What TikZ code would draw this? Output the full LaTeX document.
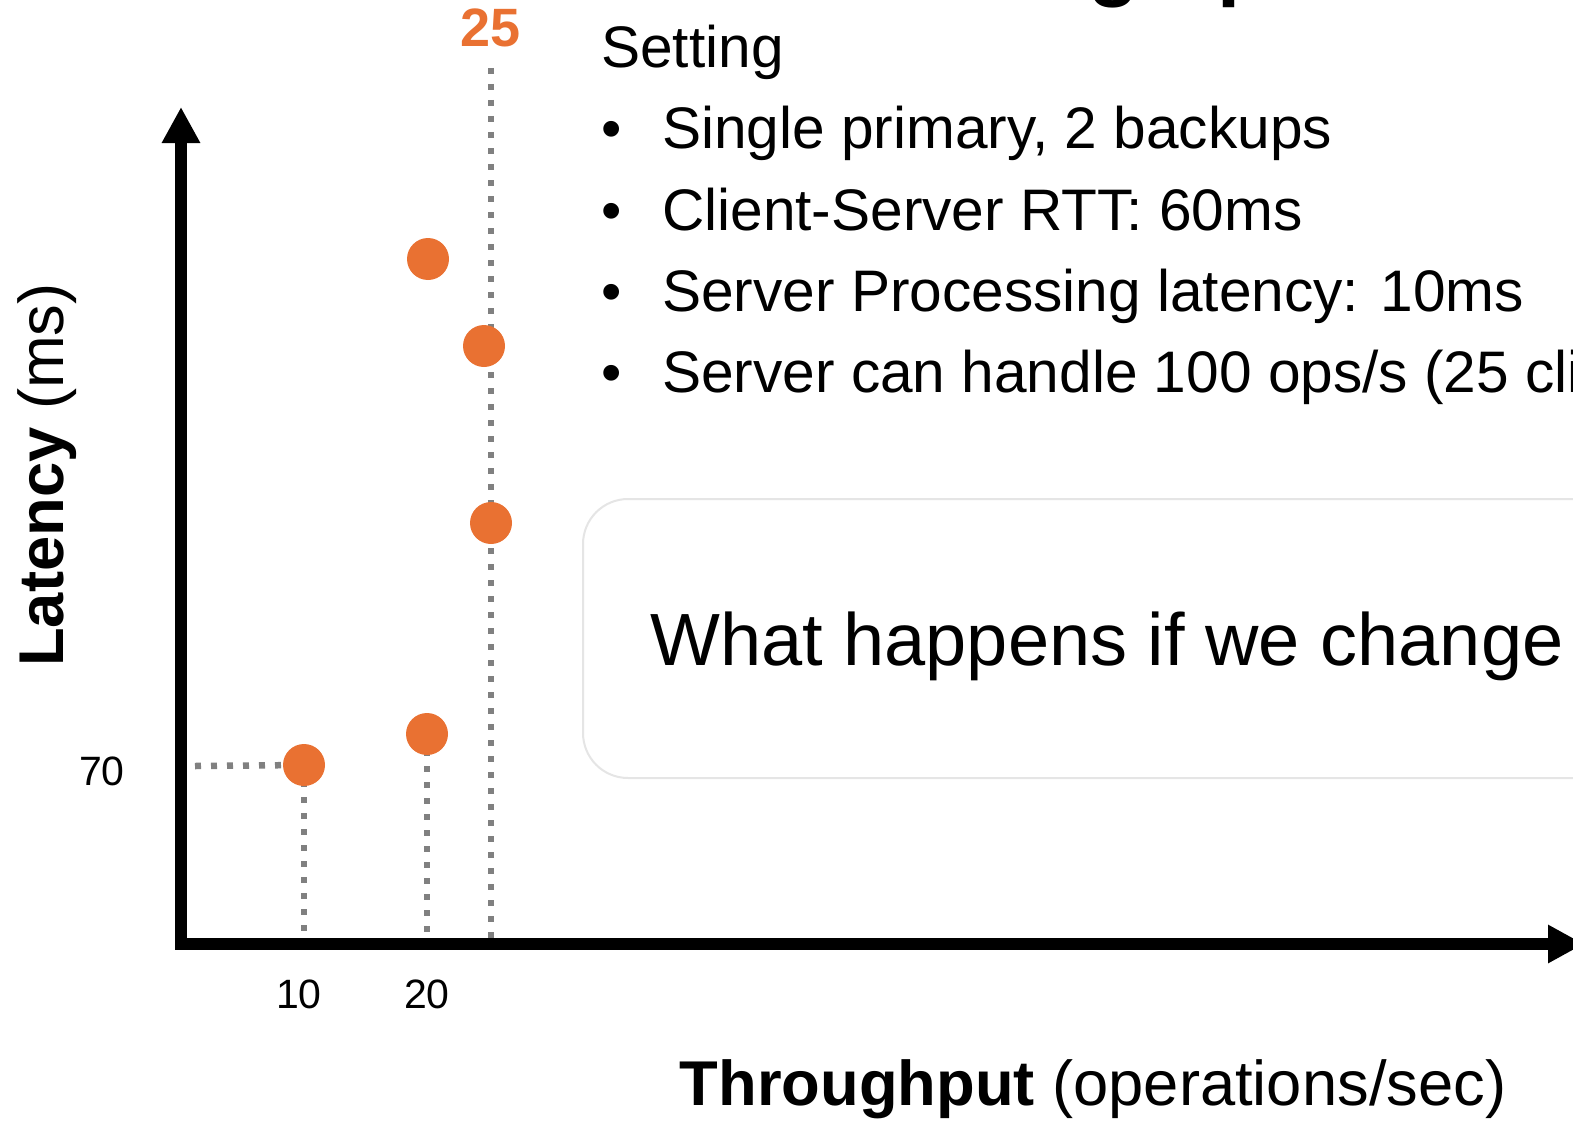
\documentclass[tikz,border=0pt]{standalone}
\usepackage{fontspec}
\setmainfont{Liberation Sans}
\usetikzlibrary{arrows.meta}

\definecolor{dotorange}{HTML}{E97132}
\newcommand{\pxfont}[1]{\fontsize{#1}{#1}\selectfont}

\tikzset{
    axisline/.style={line width=12pt,line join=miter,
        {Triangle[length=36pt,width=36pt]}-{Triangle[length=36pt,width=36pt]}},
    guide/.style={gray,line width=6.5pt,dash pattern=on 6pt off 10pt},
    dot/.style={circle,fill=dotorange,minimum size=42pt,inner sep=0pt},
    ticklabel/.style={font=\pxfont{41},anchor=base},
    setline/.style={font=\pxfont{58.6},anchor=base west,inner sep=0pt},
    bulletmark/.style={font=\pxfont{58},anchor=base,inner sep=0pt},
    qbox/.style={draw=black!10,line width=2pt,fill=white,rounded corners=45pt,
        anchor=north west,minimum width=1100pt,minimum height=279pt}
}

\begin{document}
\begin{tikzpicture}[x=1pt,y=-1pt]
    \useasboundingbox (0,0) rectangle (1573,1121);
    \clip (0,0) rectangle (1573,1121);

    % title, cut off at the top
    \node[font=\bfseries\pxfont{83},anchor=base west,inner sep=0pt] (title) at (1088,-9) {graph};

    % axes
    \coordinate (ytip) at (181,107);
    \coordinate (origin) at (181,944);
    \coordinate (xtip) at (1584,944);
    \draw[axisline] (ytip) -- (origin) -- (xtip);

    % measured points
    \coordinate (m10) at (304,765);
    \coordinate (m20) at (427,734);
    \coordinate (m25a) at (491,523);
    \coordinate (m25b) at (484,346);
    \coordinate (m25c) at (428,259);
    \coordinate (x10) at (304,938);
    \coordinate (x20) at (427,938);
    \coordinate (x25) at (491,938);
    \coordinate (top25) at (491,68);
    \coordinate (y70) at (195,766);

    \draw[guide] (m10) -- (x10);
    \draw[guide] (m20) -- (x20);
    \draw[guide] (top25) -- (x25);
    \draw[guide] (y70) -- (m10);

    \node[dot] (p10) at (m10) {};
    \node[dot] (p20) at (m20) {};
    \node[dot] (p25a) at (m25a) {};
    \node[dot] (p25b) at (m25b) {};
    \node[dot] (p25c) at (m25c) {};

    % tick labels
    \node[ticklabel] (t10) at (299,1008) {10};
    \node[ticklabel] (t20) at (427,1008) {20};
    \node[ticklabel] (t70) at (102,785) {70};
    \node[font=\bfseries\pxfont{54},anchor=base,text=dotorange,inner sep=0pt] (t25) at (491,47) {25};

    % axis titles
    \node[font=\pxfont{63.3},anchor=base,inner sep=0pt] (xlabel) at (1093,1105)
      {\textbf{Throughput} (operations/sec)};
    \node[font=\pxfont{63.3},anchor=base,rotate=90,inner sep=0pt] (ylabel) at (63,475)
      {\textbf{Latency} (ms)};

    % setting
    \node[setline] (setting) at (601,68) {Setting};
    \foreach \txt [count=\i] in {{Single primary, 2 backups},
                                 {Client-Server RTT: 60ms},
                                 {Server Processing latency: 10ms},
                                 {Server can handle 100 ops/s (25 clients)}} {
        \node[bulletmark] (b\i) at (612,{68+81*\i}) {\textbullet};
        \node[setline] (s\i) at (662,{68+81*\i}) {\txt};
    }

    % question box
    \node[qbox] (question) at (582,498) {};
    \node[font=\pxfont{74},anchor=base west,inner sep=0pt] (qtext) at (650,665)
      {What happens if we change};
\end{tikzpicture}
\end{document}
